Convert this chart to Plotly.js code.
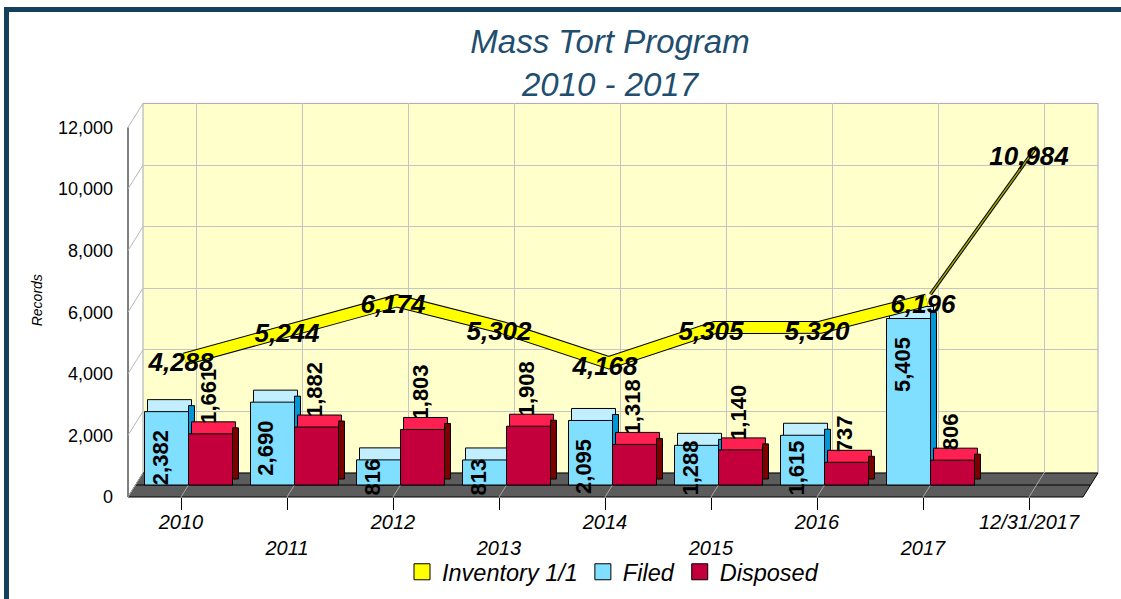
<!DOCTYPE html>
<html>
<head>
<meta charset="utf-8">
<script src="https://cdn.plot.ly/plotly-3.0.1.min.js"></script>
<style>html,body{margin:0;padding:0;background:#fff;}#chart{width:1121px;height:599px;}</style>
</head>
<body>
<div id="chart"></div>
<script>
// ---------------- data ----------------
const categories = ['2010','2011','2012','2013','2014','2015','2016','2017','12/31/2017'];
const barCategories = ['2010','2011','2012','2013','2014','2015','2016','2017'];
const inventory = [4288,5244,6174,5302,4168,5305,5320,6196,10984];
const filed = [2382,2690,816,813,2095,1288,1615,5405];
const disposed = [1661,1882,1803,1908,1318,1140,737,806];
const seriesNames = ['Inventory 1/1','Filed','Disposed'];
const yTickValues = [0,2000,4000,6000,8000,10000,12000];

// ---------------- geometry / style ----------------
const W = 1121, H = 599;
const FONT = '"Liberation Sans", Arial, sans-serif';
const S = 0.0308;          // px per record
const STEP = 106;          // px per category
const FRONT = {x:181, y:497}, MID = {x:188.5, y:485}, BACK = {x:196, y:473}, RIB = {x:184.75, y:491};
const PL = 128, PR = 1098, PT = 103.4, PB = 497;
const px = x => x / W, py = y => 1 - y / H;
const xr = (x0, l = PL, r = PR) => [(l - x0) / STEP, (r - x0) / STEP];
const yr = (y0, t = PT, b = PB) => [(y0 - b) / S, (y0 - t) / S];
const fmt = v => v.toLocaleString('en-US');

const BW = 44 / STEP, MS = (MID.x - FRONT.x) / STEP, D3 = 3 / STEP, SW = 6 / STEP;
const DY = 12 / S;
const COL = {
  inv: '#FFFF00', filed: '#80DFFF', filedTop: '#C2EFFF', filedSide: '#0096D8',
  disp: '#C4003C', dispTop: '#FF2052', dispSide: '#7D0000'
};
const edge = {color: '#000', width: 1};

function bar(y, base, offset, width, color) {
  return {type: 'bar', x: barCategories, y: y, base: base, offset: offset, width: width,
    xaxis: 'x2', yaxis: 'y2', marker: {color: color, line: edge},
    showlegend: false, hoverinfo: 'skip'};
}

const traces = [
  // Filed: top, side, front
  bar(filed, DY, MS - BW + D3, BW, COL.filedTop),
  bar(filed, DY / 2, MS, SW, COL.filedSide),
  bar(filed, 0, MS - BW, BW, COL.filed),
  // Disposed: top, side, front
  bar(disposed, DY, MS + D3, BW, COL.dispTop),
  bar(disposed, DY / 2, MS + BW, SW, COL.dispSide),
  bar(disposed, 0, MS, BW, COL.disp),
  // Inventory ribbon (first 8 points)
  {type: 'scatter', mode: 'lines', x: categories.slice(0, 8), y: inventory.slice(0, 8),
   xaxis: 'x3', yaxis: 'y3', line: {color: '#000', width: 13}, showlegend: false, hoverinfo: 'skip'},
  {type: 'scatter', mode: 'lines', x: categories.slice(0, 8), y: inventory.slice(0, 8),
   xaxis: 'x3', yaxis: 'y3', line: {color: COL.inv, width: 11}, showlegend: false, hoverinfo: 'skip'},
  // final thin segment
  {type: 'scatter', mode: 'lines', x: categories.slice(7), y: inventory.slice(7),
   xaxis: 'x4', yaxis: 'y2', line: {color: '#000', width: 3.5}, showlegend: false, hoverinfo: 'skip'},
  {type: 'scatter', mode: 'lines', x: categories.slice(7), y: inventory.slice(7),
   xaxis: 'x4', yaxis: 'y2', line: {color: '#A8A800', width: 1.5}, showlegend: false, hoverinfo: 'skip'},
  // inventory value labels
  {type: 'scatter', mode: 'text', x: categories, y: inventory, text: inventory.map(fmt),
   xaxis: 'x5', yaxis: 'y4', textposition: 'middle center', cliponaxis: false,
   textfont: {family: FONT, size: 26, weight: 'bold', style: 'italic', color: '#000'},
   showlegend: false, hoverinfo: 'skip'},
  // legend entries
  ...seriesNames.map((n, k) => ({type: 'scatter', mode: 'markers', x: [null], y: [null],
    xaxis: 'x', yaxis: 'y', name: n, legendrank: k + 1,
    marker: {symbol: 'square', size: 16, color: [COL.inv, COL.filed, COL.disp][k], line: edge}}))
];

// ---------------- bar value labels ----------------
const ctx = document.createElement('canvas').getContext('2d');
ctx.font = 'bold 22px "Liberation Sans", Arial';
const labFont = {family: FONT, size: 22, weight: 'bold', color: '#000'};
const annotations = [];
filed.forEach((v, i) => {
  const t = fmt(v);
  const len = ctx.measureText(t).width;
  const frontTop = FRONT.y - v * S;
  const clamp = frontTop + 6 + len > PB;
  annotations.push(clamp
    ? {x: i, y: 0, xref: 'x2', yref: 'y4', text: t, textangle: -90, showarrow: false,
       xanchor: 'center', yanchor: 'bottom', xshift: -21, font: labFont, borderpad: 0}
    : {x: i, y: v, xref: 'x2', yref: 'y2', text: t, textangle: -90, showarrow: false,
       xanchor: 'center', yanchor: 'top', xshift: -21, yshift: -18, font: labFont, borderpad: 0});
});
disposed.forEach((v, i) => {
  annotations.push({x: i, y: v, xref: 'x2', yref: 'y2', text: fmt(v), textangle: -90, showarrow: false,
    xanchor: 'center', yanchor: 'bottom', xshift: 27.5, yshift: 9, font: labFont, borderpad: 0});
});

// ---------------- decorative 3D frame ----------------
const P = (x, y) => px(x) + ',' + py(y);
const shapes = [
  // figure border
  {type: 'rect', xref: 'paper', yref: 'paper', x0: px(4), x1: 1, y0: py(12), y1: py(7), fillcolor: '#17405F', line: {width: 0}, layer: 'below'},
  {type: 'rect', xref: 'paper', yref: 'paper', x0: px(4), x1: px(9), y0: 0, y1: py(7), fillcolor: '#17405F', line: {width: 0}, layer: 'below'},
  // back wall
  {type: 'rect', xref: 'paper', yref: 'paper', x0: px(143), x1: px(PR), y0: py(BACK.y), y1: py(PT),
   fillcolor: '#FFFFCC', line: {color: '#A8A8A8', width: 1}, layer: 'below'},
  // floor
  {type: 'path', xref: 'paper', yref: 'paper', layer: 'below',
   path: 'M' + P(PL, PB) + 'L' + P(143, BACK.y) + 'L' + P(PR, BACK.y) + 'L' + P(PR - 15, PB) + 'Z',
   fillcolor: '#5C5C5C', line: {color: '#000', width: 1}},
  {type: 'line', xref: 'paper', yref: 'paper', layer: 'below', x0: px(135.5), x1: px(PR - 7.5), y0: py(MID.y), y1: py(MID.y),
   line: {color: '#000', width: 1}},
  // left axis line
  {type: 'line', xref: 'paper', yref: 'paper', layer: 'below', x0: px(PL), x1: px(PL), y0: py(PB), y1: py(PB - 12000 * S),
   line: {color: '#000', width: 1}}
];
// left wall diagonals at y ticks
yTickValues.forEach(v => shapes.push({type: 'line', xref: 'paper', yref: 'paper', layer: 'below',
  x0: px(PL), y0: py(FRONT.y - v * S), x1: px(143), y1: py(BACK.y - v * S), line: {color: '#B8B8B8', width: 1}}));
// floor diagonals at categories
categories.forEach((c, i) => shapes.push({type: 'line', xref: 'paper', yref: 'paper', layer: 'below',
  x0: px(FRONT.x + STEP * i), y0: py(FRONT.y), x1: px(BACK.x + STEP * i), y1: py(BACK.y),
  line: {color: '#A8A8A8', width: 1}}));

const catAxis = {type: 'category', categoryorder: 'array', categoryarray: categories, fixedrange: true};
const hidden = {visible: false, fixedrange: true};

const layout = {
  width: W, height: H, margin: {l: 0, r: 0, t: 0, b: 0},
  paper_bgcolor: '#FFFFFF', plot_bgcolor: 'rgba(0,0,0,0)',
  barmode: 'overlay', font: {family: FONT, color: '#000'},
  title: {text: 'Mass Tort Program<br>2010 - 2017', x: px(610), xanchor: 'center', y: py(53), yanchor: 'top',
          font: {family: FONT, size: 33, style: 'italic', color: '#1F4E6F'}},
  // back wall grid
  xaxis: Object.assign({}, catAxis, {domain: [px(143), px(PR)], range: xr(BACK.x, 143, PR), anchor: 'y',
    showgrid: true, gridcolor: '#C4C4C4', showticklabels: false, ticks: '', zeroline: false, showline: false}),
  yaxis: {domain: [py(BACK.y), py(PT)], range: [0, 12000], anchor: 'x', tick0: 0, dtick: 2000, fixedrange: true,
    showgrid: true, gridcolor: '#C4C4C4', showticklabels: false, ticks: '', zeroline: false, showline: false},
  // front plane x axis (ticks & labels)
  xaxis2: Object.assign({}, catAxis, {domain: [px(PL), px(PR)], range: xr(FRONT.x), anchor: 'y2',
    showgrid: false, zeroline: false, showline: false, ticks: 'outside', ticklen: 12, tickcolor: '#000', tickwidth: 1,
    ticklabelstandoff: -5,
    tickmode: 'array', tickvals: categories, ticktext: categories.map((c, i) => i % 2 ? '<br>' + c : c),
    tickfont: {family: FONT, size: 20, style: 'italic', color: '#000'}}),
  // mid plane y (bars)
  yaxis2: {domain: [py(PB), py(PT)], range: yr(MID.y), anchor: 'x2', fixedrange: true,
    showgrid: false, showticklabels: false, ticks: '', zeroline: false, showline: false},
  // ribbon centre plane
  xaxis3: Object.assign({}, catAxis, hidden, {overlaying: 'x2', range: xr(RIB.x), anchor: 'y2'}),
  yaxis3: Object.assign({}, hidden, {overlaying: 'y2', range: yr(RIB.y), anchor: 'x2'}),
  // mid plane x (thin segment)
  xaxis4: Object.assign({}, catAxis, hidden, {overlaying: 'x2', range: xr(MID.x), anchor: 'y2'}),
  // front plane (labels)
  xaxis5: Object.assign({}, catAxis, hidden, {overlaying: 'x2', range: xr(FRONT.x), anchor: 'y2'}),
  yaxis4: {overlaying: 'y2', anchor: 'x2', side: 'left', range: yr(FRONT.y), fixedrange: true,
    tickmode: 'array', tickvals: yTickValues, tickformat: ',', showgrid: false, zeroline: false, showline: false,
    ticks: '', ticklabelstandoff: 14, tickfont: {family: FONT, size: 18, color: '#000'},
    title: {text: 'Records', standoff: 12, font: {family: FONT, size: 14, style: 'italic', color: '#000'}}},
  showlegend: true,
  legend: {orientation: 'h', x: px(613), xanchor: 'center', y: py(572), yanchor: 'middle',
    font: {family: FONT, size: 23.5, style: 'italic', color: '#000'}, bgcolor: 'rgba(0,0,0,0)', traceorder: 'normal'},
  annotations: annotations,
  shapes: shapes
};

Plotly.newPlot('chart', traces, layout, {displayModeBar: false, staticPlot: true});
</script>
</body>
</html>
